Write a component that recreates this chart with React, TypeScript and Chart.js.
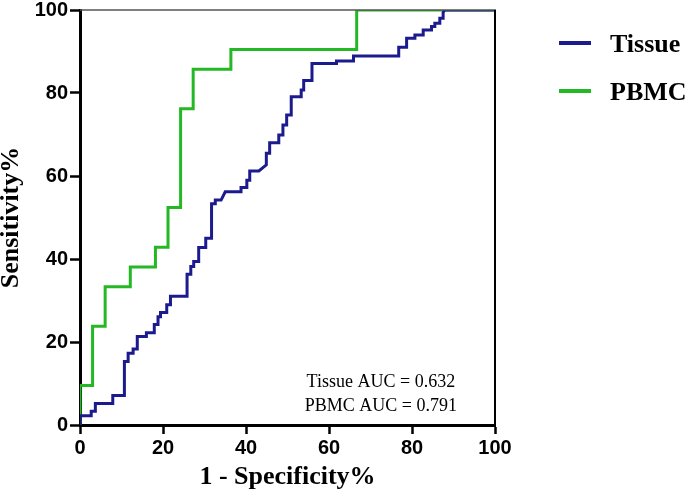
import React, { useEffect, useRef } from "react";
import { Chart, registerables } from "chart.js";

Chart.register(...registerables);

// ROC curve corners (1 - Specificity %, Sensitivity %)
const tissueFpr = [0, 0, 2.7, 2.7, 3.7, 3.7, 7.9, 7.9, 10.7, 10.7, 11.6, 11.6, 12.8, 12.8, 13.8, 13.8, 16.0, 16.0, 17.9, 17.9, 18.8, 18.8, 19.4, 19.4, 20.9, 20.9, 21.8, 21.8, 25.8, 25.8, 26.7, 26.7, 27.4, 27.4, 28.6, 28.6, 30.3, 30.3, 31.7, 31.7, 32.6, 32.6, 34.0, 35.0, 38.8, 38.8, 40.2, 40.2, 40.9, 40.9, 43.1, 44.9, 44.9, 45.7, 45.7, 47.9, 47.9, 48.9, 48.9, 49.8, 49.8, 50.9, 50.9, 53.3, 53.3, 53.9, 53.9, 55.9, 55.9, 61.8, 61.8, 65.9, 65.9, 76.8, 76.8, 78.7, 78.7, 80.7, 80.7, 82.7, 82.7, 84.7, 84.7, 85.5, 85.5, 86.7, 86.7, 87.5, 87.5, 87.9, 100];
const tissueSens = [0, 2.2, 2.2, 3.3, 3.3, 5.2, 5.2, 7.1, 7.1, 15.3, 15.3, 17.3, 17.3, 18.3, 18.3, 21.3, 21.3, 22.2, 22.2, 24.2, 24.2, 26.1, 26.1, 27.1, 27.1, 29.0, 29.0, 31.0, 31.0, 36.3, 36.3, 38.2, 38.2, 39.4, 39.4, 42.8, 42.8, 45.0, 45.0, 53.3, 53.3, 54.2, 54.2, 56.2, 56.2, 57.2, 57.2, 59.0, 59.0, 61.2, 61.2, 62.7, 65.5, 65.5, 68.0, 68.0, 69.9, 69.9, 72.3, 72.3, 74.7, 74.7, 79.1, 79.1, 80.7, 80.7, 83.0, 83.0, 87.1, 87.1, 87.7, 87.7, 88.9, 88.9, 91.0, 91.0, 93.2, 93.2, 94.0, 94.0, 95.2, 95.2, 96.0, 96.0, 96.8, 96.8, 98.0, 98.0, 99.4, 100, 100];

const pbmcFpr = [0, 0, 3.03, 3.03, 6.06, 6.06, 12.12, 12.12, 18.18, 18.18, 21.21, 21.21, 24.24, 24.24, 27.27, 27.27, 36.36, 36.36, 66.67, 66.67, 100];
const pbmcSens = [0, 9.52, 9.52, 23.81, 23.81, 33.33, 33.33, 38.1, 38.1, 42.86, 42.86, 52.38, 52.38, 76.19, 76.19, 85.71, 85.71, 90.48, 90.48, 100, 100];

const seriesNames = ["Tissue", "PBMC"];
const seriesColors = ["#1b1b8e", "#24b824"];
const aucLabels = ["Tissue AUC = 0.632", "PBMC AUC = 0.791"];
const xTicks = [0, 20, 40, 60, 80, 100];
const yTicks = [0, 20, 40, 60, 80, 100];

const serif = "'Liberation Serif', 'Times New Roman', serif";
const sans = "'Liberation Sans', Arial, sans-serif";

const toPoints = (xs: number[], ys: number[]) => xs.map((x, i) => ({ x, y: ys[i] }));

const decorPlugin = {
  id: "decor",
  afterDraw(chart: any) {
    const { ctx, chartArea } = chart;
    const { left, right, top, bottom } = chartArea;
    ctx.save();
    // top border
    ctx.strokeStyle = "#555";
    ctx.lineWidth = 1.5;
    ctx.beginPath();
    ctx.moveTo(left, top);
    ctx.lineTo(right + 1, top);
    ctx.stroke();
    // right border
    ctx.strokeStyle = "#000";
    ctx.lineWidth = 2;
    ctx.beginPath();
    ctx.moveTo(right, top);
    ctx.lineTo(right, bottom);
    ctx.stroke();

    // legend
    const legendLineX0 = right + 64;
    const legendLineX1 = right + 96;
    const legendTextX = right + 115;
    const legendYs = [top + 33, top + 81];
    seriesNames.forEach((name, i) => {
      ctx.strokeStyle = seriesColors[i];
      ctx.lineWidth = 4;
      ctx.beginPath();
      ctx.moveTo(legendLineX0, legendYs[i]);
      ctx.lineTo(legendLineX1, legendYs[i]);
      ctx.stroke();
      ctx.fillStyle = "#000";
      ctx.font = `bold 26px ${serif}`;
      ctx.textAlign = "left";
      ctx.textBaseline = "alphabetic";
      ctx.fillText(name, legendTextX, legendYs[i] + 9);
    });

    // AUC annotation
    ctx.font = `18px ${serif}`;
    ctx.fillStyle = "#000";
    ctx.textAlign = "center";
    ctx.textBaseline = "alphabetic";
    const cx = chart.scales.x.getPixelForValue(72.5);
    aucLabels.forEach((t, i) => {
      ctx.fillText(t, cx, bottom - 38 + i * 24);
    });
    ctx.restore();
  },
};

export default function App() {
  const ref = useRef<HTMLCanvasElement>(null);

  useEffect(() => {
    document.body.style.margin = "0";
    const canvas = ref.current;
    if (!canvas) return;
    const chart = new Chart(canvas, {
      type: "line",
      data: {
        datasets: [
          {
            label: seriesNames[0],
            data: toPoints(tissueFpr, tissueSens),
            borderColor: seriesColors[0],
            backgroundColor: seriesColors[0],
            borderWidth: 3,
            pointRadius: 0,
            tension: 0,
            fill: false,
          },
          {
            label: seriesNames[1],
            data: toPoints(pbmcFpr, pbmcSens),
            borderColor: seriesColors[1],
            backgroundColor: seriesColors[1],
            borderWidth: 3,
            pointRadius: 0,
            tension: 0,
            fill: false,
          },
        ],
      },
      options: {
        responsive: false,
        animation: false,
        maintainAspectRatio: false,
        parsing: false,
        layout: { padding: { top: 10, right: 192, left: 0, bottom: 0 } },
        plugins: {
          legend: { display: false },
          tooltip: { enabled: false },
        },
        scales: {
          x: {
            type: "linear",
            min: 0,
            max: 100,
            afterBuildTicks: (scale: any) => {
              scale.ticks = xTicks.map((v) => ({ value: v }));
            },
            afterFit: (scale: any) => {
              scale.height = 71;
              scale.paddingLeft = 0;
              scale.paddingRight = 0;
            },
            grid: {
              drawOnChartArea: false,
              drawTicks: true,
              tickLength: 9,
              tickColor: "#000",
              tickWidth: 2.5,
              color: "#000",
            },
            border: { display: true, color: "#000", width: 3 },
            ticks: {
              color: "#000",
              padding: 2,
              maxRotation: 0,
              font: { family: sans, size: 20, weight: "bold" },
            },
            title: {
              display: true,
              text: "1 - Specificity%",
              color: "#000",
              padding: { top: 0, bottom: 3 },
              font: { family: serif, size: 26, weight: "bold", lineHeight: 1.2 },
            },
          },
          y: {
            type: "linear",
            min: 0,
            max: 100,
            afterBuildTicks: (scale: any) => {
              scale.ticks = yTicks.map((v) => ({ value: v }));
            },
            afterFit: (scale: any) => {
              scale.width = 80;
              scale.paddingTop = 0;
              scale.paddingBottom = 0;
            },
            grid: {
              drawOnChartArea: false,
              drawTicks: true,
              tickLength: 10,
              tickColor: "#000",
              tickWidth: 2.5,
              color: "#000",
            },
            border: { display: true, color: "#000", width: 3 },
            ticks: {
              color: "#000",
              padding: 2,
              font: { family: sans, size: 20, weight: "bold" },
            },
            title: {
              display: true,
              text: "Sensitivity%",
              color: "#000",
              padding: { top: 0, bottom: 0 },
              font: { family: serif, size: 26, weight: "bold", lineHeight: 0.85 },
            },
          },
        },
      },
      plugins: [decorPlugin],
    } as any);
    return () => chart.destroy();
  }, []);

  return (
    <canvas
      ref={ref}
      width={687}
      height={496}
      style={{ display: "block", width: "687px", height: "496px" }}
    />
  );
}
